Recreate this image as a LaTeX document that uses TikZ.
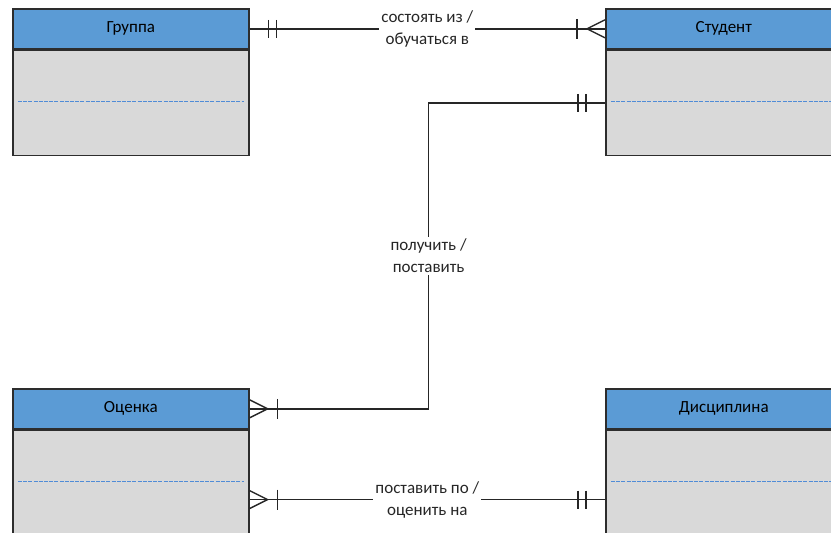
\documentclass[tikz,border=0pt]{standalone}
\usepackage{fontspec}
\setmainfont{Carlito}
\usetikzlibrary{positioning,calc}
\definecolor{headblue}{RGB}{91,155,213}
\definecolor{bodygray}{RGB}{217,217,217}
\definecolor{edgegray}{RGB}{45,45,45}
\definecolor{attrblue}{RGB}{80,140,215}
\tikzset{
  enthead/.style={draw=edgegray,line width=1.6pt,fill=headblue,minimum width=236pt,minimum height=40pt,inner sep=0pt,anchor=north west},
  entbody/.style={draw=edgegray,line width=1.6pt,fill=bodygray,minimum width=236pt,minimum height=105pt,inner sep=0pt},
  attrline/.style={attrblue,line width=1.5pt,dash pattern=on 4pt off 1.2pt},
  conn/.style={black!85,line width=1.4pt},
  endmark/.style={black!85,line width=1.4pt},
  lbl/.style={fill=white,align=center,inner sep=2pt}
}
\newcommand{\markone}[2]{%
  \draw[endmark] ($(#1)+(#2*19,-9)$) -- ++(0,18);
  \draw[endmark] ($(#1)+(#2*27,-9)$) -- ++(0,18);}
\newcommand{\markmany}[2]{%
  \draw[endmark] ($(#1)+(0,-9)$) -- ($(#1)+(#2*18,0)$) -- ($(#1)+(0,9)$);
  \draw[endmark] ($(#1)+(#2*28,-10)$) -- ++(0,20);}
\begin{document}
\begin{tikzpicture}[x=1pt,y=-1pt,font=\fontsize{17}{22}\selectfont]
                \useasboundingbox (0,0) rectangle (831,533);
                \clip (0,0) rectangle (831,533);
                % entities
                \node[enthead] (grp) at (12,8) {Группа};
                \node[entbody,below=0pt of grp] (grpb) {};
                \node[enthead] (stu) at (605,8) {Студент};
                \node[entbody,below=0pt of stu] (stub) {};
                \node[enthead] (ocn) at (12,388) {Оценка};
                \node[entbody,below=0pt of ocn,minimum height=112pt] (ocnb) {};
                \node[enthead] (dis) at (605,388) {Дисциплина};
                \node[entbody,below=0pt of dis,minimum height=112pt] (disb) {};
                \foreach \e in {grpb,stub,ocnb,disb}
                  \draw[attrline] ([shift={(6,52)}]\e.north west) -- ([shift={(-6,52)}]\e.north east);
                % relations
                \draw[conn] (grp.east) -- (stu.west)
                  node[midway,lbl] (rel1) {состоять из /\\обучаться в};
                \draw[conn] (ocn.east) -- ++(179,0) |- (stub.west)
                  node[pos=0.25,lbl] (rel2) {получить /\\поставить};
                \draw[conn] ([yshift=-70pt]ocnb.north east) coordinate (o3) -- ([yshift=-70pt]disb.north west) coordinate (d3)
                  node[midway,lbl] (rel3) {поставить по /\\оценить на};
                % cardinality marks
                \markone{grp.east}{1}
                \markmany{stu.west}{-1}
                \markone{stub.west}{-1}
                \markmany{ocn.east}{1}
                \markmany{o3}{1}
                \markone{d3}{-1}
\end{tikzpicture}
\end{document}
